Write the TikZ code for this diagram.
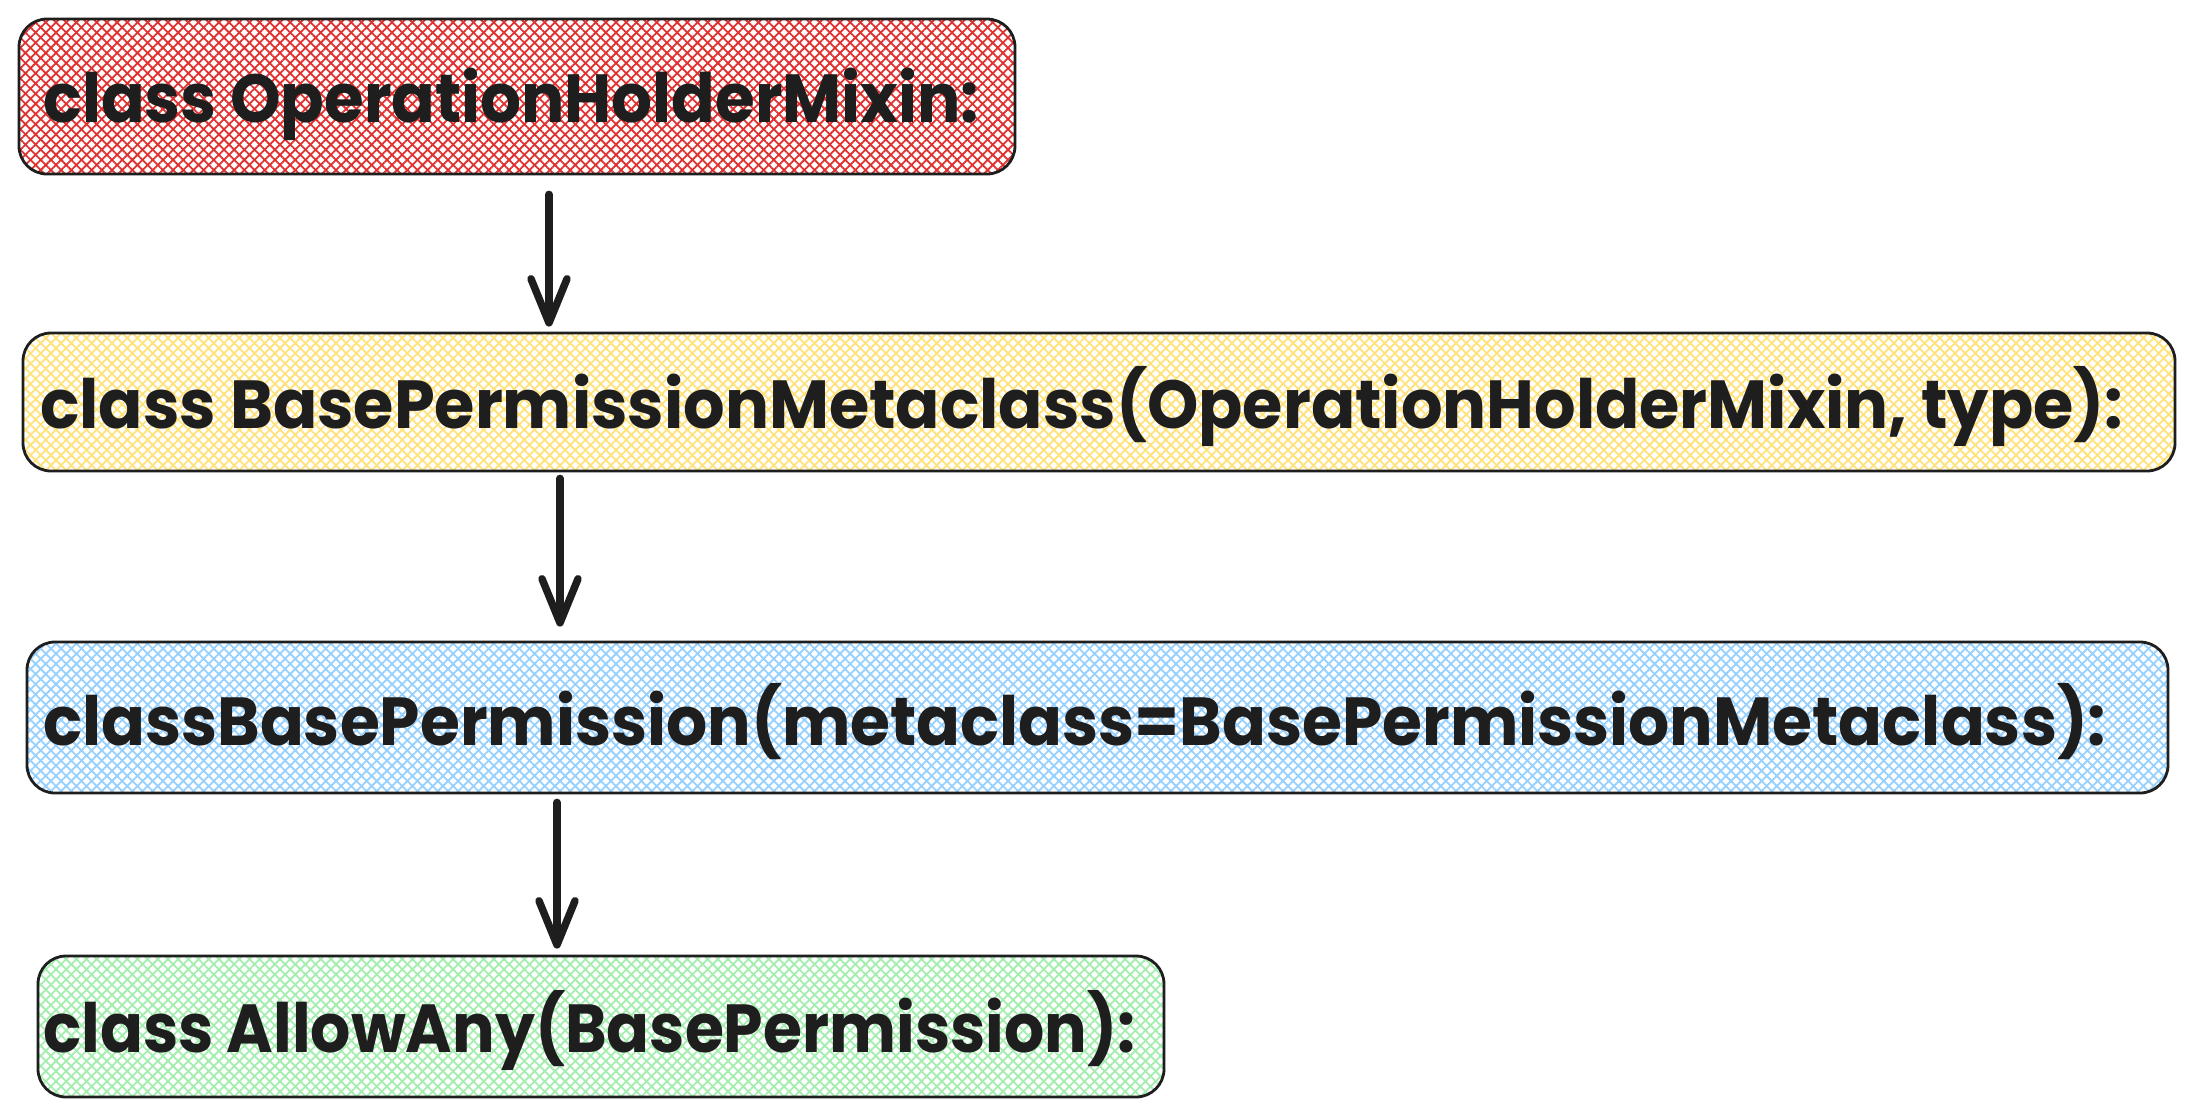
\documentclass[tikz,border=0pt]{standalone}
\usepackage{fontspec}
\setmainfont{Poppins}
\usepackage{graphicx}
\usetikzlibrary{patterns.meta,arrows.meta}
\definecolor{ink}{HTML}{1E1E1E}
\definecolor{hred}{HTML}{E03131}
\definecolor{hyellow}{HTML}{FFE27A}
\definecolor{hblue}{HTML}{96D0FF}
\definecolor{hgreen}{HTML}{A3EEAE}
\begin{document}
\begin{tikzpicture}[x=1pt,y=-1pt,
  hatch/.style={
    preaction={pattern={Lines[angle=45,distance=7.2pt,line width=1.8pt]},pattern color=#1},
    preaction={pattern={Lines[angle=-45,distance=7.2pt,line width=1.8pt]},pattern color=#1}},
  box/.style={draw=ink,line width=2.8pt,rounded corners=28pt,rectangle,inner sep=0pt},
  lbl/.style={anchor=base west,inner sep=0pt,text=ink,font=\fontsize{68}{72}\selectfont\bfseries},
  arr/.style={draw=ink,line width=7.5pt,line cap=round,
    -{Straight Barb[length=44pt,width=36pt,round]}}]
\useasboundingbox (0,0) rectangle (2195,1117);
\fill[white] (0,0) rectangle (2195,1117);

\node[box,hatch=hred,minimum width=996pt,minimum height=155pt] (r) at (517,96.5) {};
\node[box,hatch=hyellow,minimum width=2152pt,minimum height=138pt] (y) at (1099,402) {};
\node[box,hatch=hblue,minimum width=2141pt,minimum height=151pt] (b) at (1097.5,717.5) {};
\node[box,hatch=hgreen,minimum width=1126pt,minimum height=141pt] (g) at (601,1026.5) {};

\node[lbl] (tr) at (43,122) {\resizebox{936pt}{\height}{class OperationHolderMixin:}};
\node[lbl] (ty) at (40,428) {\resizebox{2083pt}{\height}{class BasePermissionMetaclass(OperationHolderMixin, type):}};
\node[lbl] (tb) at (43,745) {\resizebox{2063pt}{\height}{classBasePermission(metaclass=BasePermissionMetaclass):}};
\node[lbl] (tg) at (43,1052) {\resizebox{1092pt}{\height}{class AllowAny(BasePermission):}};

\draw[arr,shorten <=19pt,shorten >=5pt] (549,0 |- r.south) -- (549,0 |- y.north);
\draw[arr,shorten <=6pt,shorten >=14pt] (560,0 |- y.south) -- (560,0 |- b.north);
\draw[arr,shorten <=8pt,shorten >=6pt] (557,0 |- b.south) -- (557,0 |- g.north);
\end{tikzpicture}
\end{document}
